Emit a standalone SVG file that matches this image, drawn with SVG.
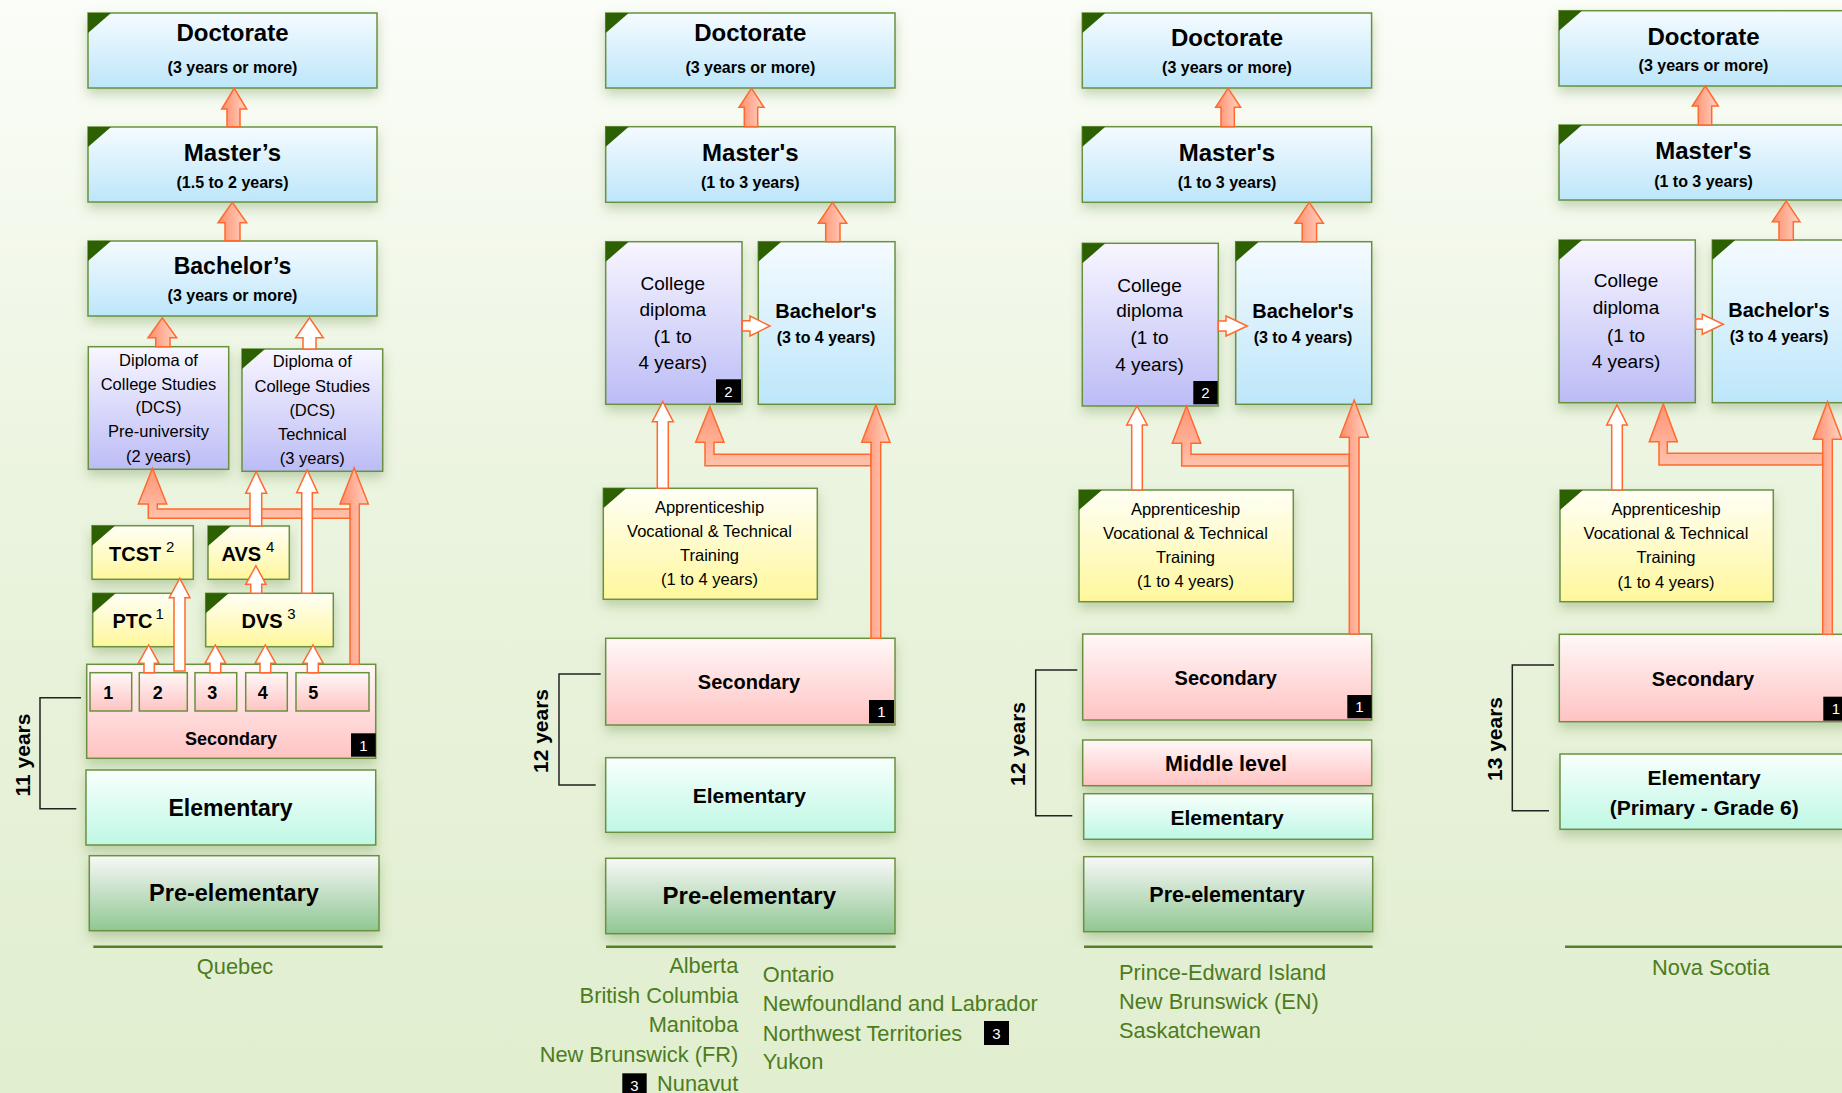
<svg xmlns="http://www.w3.org/2000/svg" width="1842" height="1093" viewBox="0 0 1842 1093">
<defs>
<linearGradient id="bg" x1="0" y1="0" x2="0" y2="1"><stop offset="0" stop-color="#fbfdf8"/><stop offset="0.45" stop-color="#ebf4df"/><stop offset="1" stop-color="#e1eecf"/></linearGradient>
<linearGradient id="gBlue" x1="0" y1="0" x2="0" y2="1"><stop offset="0" stop-color="#f5fbff"/><stop offset="1" stop-color="#bde6fa"/></linearGradient>
<linearGradient id="gLav" x1="0" y1="0" x2="0" y2="1"><stop offset="0" stop-color="#f8f6ff"/><stop offset="1" stop-color="#bcbcf6"/></linearGradient>
<linearGradient id="gYel" x1="0" y1="0" x2="0" y2="1"><stop offset="0" stop-color="#fffff6"/><stop offset="1" stop-color="#fff79c"/></linearGradient>
<linearGradient id="gPink" x1="0" y1="0" x2="0" y2="1"><stop offset="0" stop-color="#fff8f8"/><stop offset="1" stop-color="#ffc3c3"/></linearGradient>
<linearGradient id="gMint" x1="0" y1="0" x2="0" y2="1"><stop offset="0" stop-color="#f8fffd"/><stop offset="1" stop-color="#bff8e4"/></linearGradient>
<linearGradient id="gGreen" x1="0" y1="0" x2="0" y2="1"><stop offset="0" stop-color="#f8f8f8"/><stop offset="1" stop-color="#90c793"/></linearGradient>
<linearGradient id="gOr" x1="0" y1="0" x2="1" y2="0"><stop offset="0" stop-color="#ff8d6b"/><stop offset="1" stop-color="#ffd3c4"/></linearGradient>
<linearGradient id="gOrV" x1="0" y1="0" x2="0" y2="1"><stop offset="0" stop-color="#ff9576"/><stop offset="1" stop-color="#ffc1ab"/></linearGradient>
<filter id="sh" x="-10%" y="-20%" width="120%" height="150%"><feDropShadow dx="0" dy="6" stdDeviation="6" flood-color="#4f7a2a" flood-opacity="0.3"/></filter>
<style>
.box{stroke:#6a9140;stroke-width:1.5;filter:url(#sh)}
.yr{stroke:#6a9140;stroke-width:1.5;fill:url(#gPink)}
.blue{fill:url(#gBlue)}.lav{fill:url(#gLav)}.yel{fill:url(#gYel)}.pink{fill:url(#gPink)}.mint{fill:url(#gMint)}.green{fill:url(#gGreen)}
.tri{fill:#2d6000}
text{font-family:"Liberation Sans",Arial,sans-serif;fill:#000}
.c{text-anchor:middle}
.b{font-weight:bold}
.sup{font-size:15px}
.prov{fill:#4d7c1e;font-size:21.8px}
.bdg{fill:#000}
.bt{fill:#fff;font-size:15px;text-anchor:middle}
.arr{stroke:#ff6a2e;stroke-width:1.5;fill:url(#gOr)}
.arrL{stroke:#ff6a2e;stroke-width:1.5;fill:url(#gOrV)}
.warr{stroke:#ff6a2e;stroke-width:1.5;fill:#fff}
.brk{fill:none;stroke:#222;stroke-width:1.5}
.rule{stroke:#55802a;stroke-width:2.5}
</style>
</defs>
<rect width="1842" height="1093" fill="url(#bg)"/>

<!-- ================= Column 1: Quebec ================= -->
<g id="q-doctorate"><rect class="box blue" x="88" y="13" width="289" height="75"/><polygon class="tri" points="88,13 111,13 88,33"/>
<text class="c b" x="232.5" y="41" font-size="24">Doctorate</text><text class="c b" x="232.5" y="73" font-size="16">(3 years or more)</text></g>
<g id="q-masters"><rect class="box blue" x="88" y="127" width="289" height="75"/><polygon class="tri" points="88,127 111,127 88,147"/>
<text class="c b" x="232.5" y="161" font-size="24">Master’s</text><text class="c b" x="232.5" y="188" font-size="16">(1.5 to 2 years)</text></g>
<g id="q-bachelors"><rect class="box blue" x="88" y="241" width="289" height="75"/><polygon class="tri" points="88,241 111,241 88,261"/>
<text class="c b" x="232.5" y="274" font-size="23">Bachelor’s</text><text class="c b" x="232.5" y="301" font-size="16">(3 years or more)</text></g>
<g id="q-dcs-pre"><rect class="box lav" x="88.3" y="346.7" width="140.4" height="122.6"/>
<text class="c" font-size="16.5"><tspan x="158.5" y="366">Diploma of</tspan><tspan x="158.5" y="390">College Studies</tspan><tspan x="158.5" y="413.3">(DCS)</tspan><tspan x="158.5" y="437.3">Pre-university</tspan><tspan x="158.5" y="461.7">(2 years)</tspan></text></g>
<g id="q-dcs-tech"><rect class="box lav" x="242" y="349" width="140.7" height="122.3"/><polygon class="tri" points="242,349 265,349 242,369"/>
<text class="c" font-size="16.5"><tspan x="312.3" y="367.3">Diploma of</tspan><tspan x="312.3" y="391.7">College Studies</tspan><tspan x="312.3" y="416">(DCS)</tspan><tspan x="312.3" y="440">Technical</tspan><tspan x="312.3" y="464">(3 years)</tspan></text></g>
<g id="q-tcst"><rect class="box yel" x="92" y="525.7" width="101.3" height="53.6"/><polygon class="tri" points="92,525.7 115,525.7 92,545.7"/>
<text class="b" x="109" y="561" font-size="20">TCST</text><text class="sup" x="166" y="552">2</text></g>
<g id="q-avs"><rect class="box yel" x="208" y="526" width="81.3" height="53.3"/><polygon class="tri" points="208,526 231,526 208,546"/>
<text class="b" x="221.5" y="561" font-size="20">AVS</text><text class="sup" x="266" y="552">4</text></g>
<g id="q-ptc"><rect class="box yel" x="92.7" y="593.3" width="82" height="53.4"/><polygon class="tri" points="92.7,593.3 115.7,593.3 92.7,613.3"/>
<text class="b" x="112.5" y="628" font-size="20">PTC</text><text class="sup" x="155.5" y="619">1</text></g>
<g id="q-dvs"><rect class="box yel" x="205.7" y="593.3" width="127.6" height="53.4"/><polygon class="tri" points="205.7,593.3 228.7,593.3 205.7,613.3"/>
<text class="b" x="241.5" y="628" font-size="20">DVS</text><text class="sup" x="287.3" y="619">3</text></g>
<g id="q-secondary"><rect class="box pink" x="86.7" y="664.3" width="289" height="94"/>
<rect class="yr" x="90" y="672.7" width="41.7" height="38.3"/><rect class="yr" x="139.3" y="672.7" width="48" height="38.3"/><rect class="yr" x="195" y="672.7" width="41.7" height="38.3"/><rect class="yr" x="245.7" y="672.7" width="41.6" height="38.3"/><rect class="yr" x="296" y="672.7" width="73" height="38.3"/>
<text class="b" font-size="18" y="699"><tspan x="103.3">1</tspan><tspan x="152.7">2</tspan><tspan x="207.3">3</tspan><tspan x="257.7">4</tspan><tspan x="308.3">5</tspan></text>
<text class="c b" x="231" y="745" font-size="18">Secondary</text>
<rect class="bdg" x="351" y="733.3" width="24.7" height="23.4"/><text class="bt" x="363.3" y="750.5">1</text></g>
<g id="q-elementary"><rect class="box mint" x="86" y="770" width="289.7" height="75"/><text class="c b" x="230.5" y="815.7" font-size="23">Elementary</text></g>
<g id="q-preelementary"><rect class="box green" x="89.3" y="855.7" width="289.7" height="75"/><text class="c b" x="234" y="900.7" font-size="23.5">Pre-elementary</text></g>
<g id="q-label"><line class="rule" x1="93.3" y1="946.7" x2="382.7" y2="946.7"/><text class="c prov" x="235" y="974">Quebec</text></g>
<g id="q-years"><path class="brk" d="M81 697.7H40V808.7H76.3"/><text class="c b" font-size="21" transform="translate(30,755) rotate(-90)">11 years</text></g>

<!-- ================= Column 2 ================= -->
<g id="a-doctorate"><rect class="box blue" x="605.7" y="13" width="289.3" height="75"/><polygon class="tri" points="605.7,13 628.7,13 605.7,33"/>
<text class="c b" x="750.3" y="41" font-size="24">Doctorate</text><text class="c b" x="750.3" y="73.3" font-size="16">(3 years or more)</text></g>
<g id="a-masters"><rect class="box blue" x="605.7" y="126.7" width="289.3" height="75.6"/><polygon class="tri" points="605.7,126.7 628.7,126.7 605.7,146.7"/>
<text class="c b" x="750.3" y="161" font-size="24">Master's</text><text class="c b" x="750.3" y="187.7" font-size="16">(1 to 3 years)</text></g>
<g id="a-college"><rect class="box lav" x="605.7" y="241.7" width="136.3" height="162.6"/><polygon class="tri" points="605.7,241.7 628.7,241.7 605.7,261.7"/>
<text class="c" font-size="19"><tspan x="672.8" y="290">College</tspan><tspan x="672.8" y="316">diploma</tspan><tspan x="672.8" y="342.7">(1 to</tspan><tspan x="672.8" y="369.3">4 years)</tspan></text>
<rect class="bdg" x="716" y="379.3" width="25" height="23.4"/><text class="bt" x="728.5" y="396.5">2</text></g>
<g id="a-bachelors"><rect class="box blue" x="758.3" y="241.7" width="136.7" height="162.6"/><polygon class="tri" points="758.3,241.7 781.3,241.7 758.3,261.7"/>
<text class="c b" x="826" y="318.3" font-size="20">Bachelor's</text><text class="c b" x="826" y="342.7" font-size="16">(3 to 4 years)</text></g>
<g id="a-apprentice"><rect class="box yel" x="603.3" y="488.3" width="214" height="111"/><polygon class="tri" points="603.3,488.3 626.3,488.3 603.3,508.3"/>
<text class="c" font-size="16.5"><tspan x="709.5" y="513.3">Apprenticeship</tspan><tspan x="709.5" y="536.7">Vocational &amp; Technical</tspan><tspan x="709.5" y="561">Training</tspan><tspan x="709.5" y="585">(1 to 4 years)</tspan></text></g>
<g id="a-secondary"><rect class="box pink" x="605.7" y="638.3" width="289.3" height="86.7"/><text class="c b" x="749" y="689.3" font-size="20">Secondary</text>
<rect class="bdg" x="869" y="700" width="25" height="23.3"/><text class="bt" x="881.5" y="717">1</text></g>
<g id="a-elementary"><rect class="box mint" x="605.7" y="757.7" width="289.3" height="74.6"/><text class="c b" x="749.3" y="802.7" font-size="21">Elementary</text></g>
<g id="a-preelementary"><rect class="box green" x="605.7" y="858.3" width="289.3" height="75.4"/><text class="c b" x="749.3" y="904" font-size="24">Pre-elementary</text></g>
<g id="a-label"><line class="rule" x1="606" y1="946.7" x2="895.7" y2="946.7"/>
<text class="prov" text-anchor="end"><tspan x="738.3" y="973.3">Alberta</tspan><tspan x="738.3" y="1002.7">British Columbia</tspan><tspan x="738.3" y="1032.3">Manitoba</tspan><tspan x="738.3" y="1062.3">New Brunswick (FR)</tspan><tspan x="738.3" y="1090.7">Nunavut</tspan></text>
<rect class="bdg" x="622.3" y="1073.3" width="24.4" height="24"/><text class="bt" x="634.5" y="1091">3</text>
<text class="prov"><tspan x="762.7" y="981.7">Ontario</tspan><tspan x="762.7" y="1011">Newfoundland and Labrador</tspan><tspan x="762.7" y="1040.7">Northwest Territories</tspan><tspan x="762.7" y="1069.3">Yukon</tspan></text>
<rect class="bdg" x="984" y="1021" width="25" height="24"/><text class="bt" x="996.5" y="1038.5">3</text></g>
<g id="a-years"><path class="brk" d="M600.7 674H559V785H595.7"/><text class="c b" font-size="21" transform="translate(548.3,731) rotate(-90)">12 years</text></g>

<!-- ================= Column 3 ================= -->
<g id="p-doctorate"><rect class="box blue" x="1082.3" y="13" width="289.3" height="75"/><polygon class="tri" points="1082.3,13 1105.3,13 1082.3,33"/>
<text class="c b" x="1227" y="45.5" font-size="24">Doctorate</text><text class="c b" x="1227" y="73.3" font-size="16">(3 years or more)</text></g>
<g id="p-masters"><rect class="box blue" x="1082.3" y="126.7" width="289.3" height="75.6"/><polygon class="tri" points="1082.3,126.7 1105.3,126.7 1082.3,146.7"/>
<text class="c b" x="1227" y="161" font-size="24">Master's</text><text class="c b" x="1227" y="187.7" font-size="16">(1 to 3 years)</text></g>
<g id="p-college"><rect class="box lav" x="1082.3" y="243.3" width="136" height="162.7"/><polygon class="tri" points="1082.3,243.3 1105.3,243.3 1082.3,263.3"/>
<text class="c" font-size="19"><tspan x="1149.5" y="291.7">College</tspan><tspan x="1149.5" y="317.3">diploma</tspan><tspan x="1149.5" y="344.3">(1 to</tspan><tspan x="1149.5" y="371">4 years)</tspan></text>
<rect class="bdg" x="1193.3" y="381" width="24.4" height="23.3"/><text class="bt" x="1205.5" y="398">2</text></g>
<g id="p-bachelors"><rect class="box blue" x="1235.7" y="241.7" width="136" height="162.6"/><polygon class="tri" points="1235.7,241.7 1258.7,241.7 1235.7,261.7"/>
<text class="c b" x="1303" y="318.3" font-size="20">Bachelor's</text><text class="c b" x="1303" y="343.3" font-size="16">(3 to 4 years)</text></g>
<g id="p-apprentice"><rect class="box yel" x="1079" y="490" width="214.3" height="111.7"/><polygon class="tri" points="1079,490 1102,490 1079,510"/>
<text class="c" font-size="16.5"><tspan x="1185.5" y="515">Apprenticeship</tspan><tspan x="1185.5" y="539.3">Vocational &amp; Technical</tspan><tspan x="1185.5" y="563.3">Training</tspan><tspan x="1185.5" y="586.7">(1 to 4 years)</tspan></text></g>
<g id="p-secondary"><rect class="box pink" x="1082.7" y="634" width="289" height="86"/><text class="c b" x="1225.7" y="685" font-size="20">Secondary</text>
<rect class="bdg" x="1347.3" y="695" width="24.4" height="23.3"/><text class="bt" x="1359.5" y="712">1</text></g>
<g id="p-middle"><rect class="box pink" x="1082.7" y="740" width="289" height="45.7"/><text class="c b" x="1226" y="770.7" font-size="21.5">Middle level</text></g>
<g id="p-elementary"><rect class="box mint" x="1083.7" y="793.7" width="289" height="45.6"/><text class="c b" x="1227" y="825" font-size="21">Elementary</text></g>
<g id="p-preelementary"><rect class="box green" x="1083.7" y="856.7" width="289" height="75"/><text class="c b" x="1227" y="901.7" font-size="21.5">Pre-elementary</text></g>
<g id="p-label"><line class="rule" x1="1084" y1="946.7" x2="1372.7" y2="946.7"/>
<text class="prov"><tspan x="1119" y="980">Prince-Edward Island</tspan><tspan x="1119" y="1009">New Brunswick (EN)</tspan><tspan x="1119" y="1037.7">Saskatchewan</tspan></text></g>
<g id="p-years"><path class="brk" d="M1077.3 670H1035.7V815.7H1072.3"/><text class="c b" font-size="21" transform="translate(1025,744) rotate(-90)">12 years</text></g>

<!-- ================= Column 4: Nova Scotia ================= -->
<g id="n-doctorate"><rect class="box blue" x="1559" y="10.7" width="289" height="75.3"/><polygon class="tri" points="1559,10.7 1582,10.7 1559,30.7"/>
<text class="c b" x="1703.5" y="45" font-size="24">Doctorate</text><text class="c b" x="1703.5" y="71" font-size="16">(3 years or more)</text></g>
<g id="n-masters"><rect class="box blue" x="1559" y="125" width="289" height="75"/><polygon class="tri" points="1559,125 1582,125 1559,145"/>
<text class="c b" x="1703.5" y="159" font-size="24">Master's</text><text class="c b" x="1703.5" y="186.7" font-size="16">(1 to 3 years)</text></g>
<g id="n-college"><rect class="box lav" x="1559" y="240" width="136.3" height="162.7"/><polygon class="tri" points="1559,240 1582,240 1559,260"/>
<text class="c" font-size="19"><tspan x="1626" y="287.3">College</tspan><tspan x="1626" y="314.3">diploma</tspan><tspan x="1626" y="341.7">(1 to</tspan><tspan x="1626" y="368.3">4 years)</tspan></text></g>
<g id="n-bachelors"><rect class="box blue" x="1712.3" y="240" width="137" height="162.7"/><polygon class="tri" points="1712.3,240 1735.3,240 1712.3,260"/>
<text class="c b" x="1779" y="316.7" font-size="20">Bachelor's</text><text class="c b" x="1779" y="341.7" font-size="16">(3 to 4 years)</text></g>
<g id="n-apprentice"><rect class="box yel" x="1560" y="490" width="213.3" height="111.7"/><polygon class="tri" points="1560,490 1583,490 1560,510"/>
<text class="c" font-size="16.5"><tspan x="1666" y="515">Apprenticeship</tspan><tspan x="1666" y="539.3">Vocational &amp; Technical</tspan><tspan x="1666" y="563.3">Training</tspan><tspan x="1666" y="587.7">(1 to 4 years)</tspan></text></g>
<g id="n-secondary"><rect class="box pink" x="1559.3" y="634.3" width="289" height="87.4"/><text class="c b" x="1703" y="686" font-size="20">Secondary</text>
<rect class="bdg" x="1823.3" y="696.7" width="25" height="24"/><text class="bt" x="1835.8" y="714">1</text></g>
<g id="n-elementary"><rect class="box mint" x="1560" y="754" width="289" height="75.3"/><text class="c b" font-size="21"><tspan x="1704.2" y="785">Elementary</tspan><tspan x="1704.2" y="815">(Primary - Grade 6)</tspan></text></g>
<g id="n-label"><line class="rule" x1="1565" y1="946.7" x2="1850" y2="946.7"/><text class="c prov" x="1710.8" y="975">Nova Scotia</text></g>
<g id="n-years"><path class="brk" d="M1554 665H1512.3V810.7H1549"/><text class="c b" font-size="21" transform="translate(1501.7,739) rotate(-90)">13 years</text></g>

<!-- ================= Connectors ================= -->
<g id="connectors">
<!-- Quebec -->
<path class="arr" d="M227 126.7V109H221.7L234.2 88.3L246.7 109H240V126.7Z"/>
<path class="arr" d="M225 240.7V222.7H218L232.3 202.3L246.7 222.7H240V240.7Z"/>
<path class="arr" d="M155.7 346.7V337.7H148L162.3 317.7L176.7 337.7H170V346.7Z"/>
<path class="warr" d="M303 349V337.7H295.7L309.5 317.7L323.3 337.7H316V349Z"/>
<path class="arrL" d="M350 509H157.3V504H166.7L152.5 468.3L138.3 504H148.3V518.3H350Z"/>
<path class="arr" d="M350 664.3V504H340L354.2 467.7L368.3 504H359.3V664.3Z"/>
<path class="warr" d="M250 526V493.3H245.7L256.2 471.7L266.7 493.3H261.7V526Z"/>
<path class="warr" d="M301.7 593.3V492.7H296.7L307.2 470L317.7 492.7H312.3V593.3Z"/>
<path class="warr" d="M250.7 593.3V584.3H245.7L255.9 565.7L266 584.3H261.7V593.3Z"/>
<path class="warr" d="M174 671V597.7H169.3L179.7 578.3L190 597.7H185V671Z"/>
<path class="warr" d="M144 672.7V663.3H138.3L148.7 645L159 663.3H154.3V672.7Z"/>
<path class="warr" d="M210 672.7V663.3H205L215.3 645L225.7 663.3H220.7V672.7Z"/>
<path class="warr" d="M260 672.7V663.3H255L265.3 645L275.7 663.3H270.7V672.7Z"/>
<path class="warr" d="M307.3 672.7V663.3H302.7L313 645L323.3 663.3H318.3V672.7Z"/>
<!-- Column 2 -->
<path class="arr" d="M744.3 126.7V107.3H739L751.5 88.3L764 107.3H757.7V126.7Z"/>
<path class="arr" d="M825.7 241.7V223.3H818.3L832.5 202.3L846.7 223.3H840V241.7Z"/>
<path class="warr" d="M742.3 320.7H750V316L770 326L750 336V331H742.3Z"/>
<path class="warr" d="M657.3 488.3V421.7H652.3L662.8 401.7L673.3 421.7H668.3V488.3Z"/>
<path class="arrL" d="M871 454.3H714V442.3H724L709.9 406.7L695.7 442.3H705V465.7H871Z"/>
<path class="arr" d="M871 638.3V442.3H861.7L875.9 405L890 442.3H880.7V638.3Z"/>
<!-- Column 3 -->
<path class="arr" d="M1221 126.7V107.3H1215.6L1228.1 88.3L1240.6 107.3H1234.3V126.7Z"/>
<path class="arr" d="M1302.2 241.7V223.3H1295L1309.2 202.3L1323.4 223.3H1316.6V241.7Z"/>
<path class="warr" d="M1218.3 321H1226V316L1247.3 326L1226 336V331H1218.3Z"/>
<path class="warr" d="M1131.7 490V425H1126.7L1137 406L1147.3 425H1142.3V490Z"/>
<path class="arrL" d="M1349.3 454.3H1191V443.3H1200.7L1186.5 406L1172.3 443.3H1181.7V466H1349.3Z"/>
<path class="arr" d="M1349.3 634V437.3H1340L1354.2 400L1368.3 437.3H1359V634Z"/>
<!-- Column 4 -->
<path class="arr" d="M1698.3 125V106H1692.3L1705.3 86L1718.3 106H1711.7V125Z"/>
<path class="arr" d="M1779 240V221.7H1772.3L1786.2 201L1800 221.7H1793.3V240Z"/>
<path class="warr" d="M1695.7 319H1702.3V314.3L1723.3 324.3L1702.3 334.3V329.3H1695.7Z"/>
<path class="warr" d="M1611.7 490V425H1606.7L1617 405L1627.3 425H1622.3V490Z"/>
<path class="arrL" d="M1822.7 453.3H1667.3V441.7H1677.3L1663.3 404L1649.3 441.7H1659V465H1822.7Z"/>
<path class="arr" d="M1822.7 634.3V439.3H1813.3L1827.5 401.7L1841.7 439.3H1832.3V634.3Z"/>
</g>
</svg>
